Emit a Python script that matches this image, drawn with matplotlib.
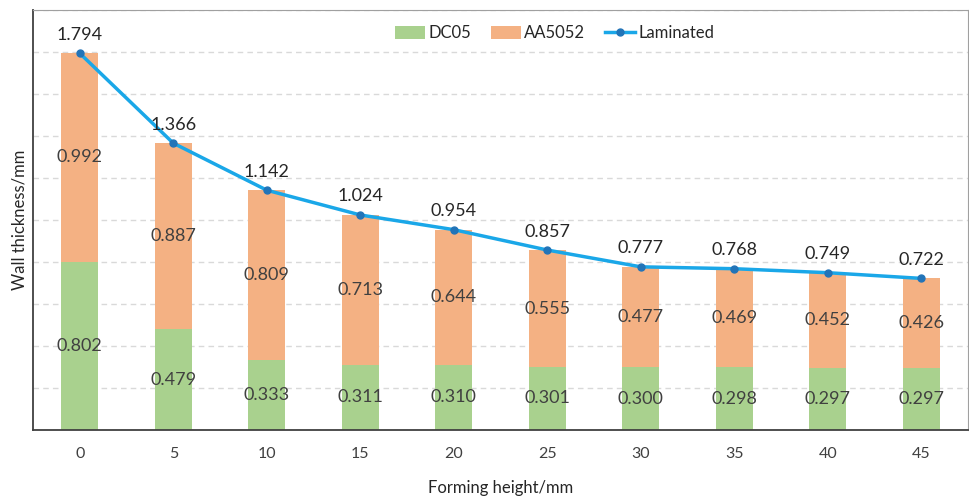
import numpy as np
import matplotlib.pyplot as plt

plt.rcParams['font.family'] = ['Lato', 'DejaVu Sans']

heights = ['0', '5', '10', '15', '20', '25', '30', '35', '40', '45']
dc05 = [0.802, 0.479, 0.333, 0.311, 0.310, 0.301, 0.300, 0.298, 0.297, 0.297]
aa5052 = [0.992, 0.887, 0.809, 0.713, 0.644, 0.555, 0.477, 0.469, 0.452, 0.426]
laminated = [1.794, 1.366, 1.142, 1.024, 0.954, 0.857, 0.777, 0.768, 0.749, 0.722]

x = np.arange(len(heights))
dc05 = np.array(dc05)
aa5052 = np.array(aa5052)

fig = plt.figure(figsize=(9.7, 4.96), dpi=100)
ax = fig.add_axes([33/970, 66/496, 935/970, 420/496])

b1 = ax.bar(x, dc05, width=0.4, color='#A9D18E', label='DC05', zorder=2)
b2 = ax.bar(x, aa5052, width=0.4, bottom=dc05, color='#F4B183', label='AA5052', zorder=2)
l1, = ax.plot(x, laminated, color='#1AA7E8', lw=2.5, marker='o', ms=5,
              mfc='#2274B8', mec='#2274B8', label='Laminated', zorder=3)

txt = '#404040'
for i in range(len(x)):
    ax.text(x[i], dc05[i] / 2, f'{dc05[i]:.3f}', ha='center', va='center',
            fontsize=13, color=txt, zorder=4)
    ax.text(x[i], dc05[i] + aa5052[i] / 2, f'{aa5052[i]:.3f}', ha='center',
            va='center', fontsize=13, color=txt, zorder=4)
    ax.text(x[i], laminated[i] + 0.05, f'{laminated[i]:.3f}', ha='center',
            va='bottom', fontsize=13, color='#262626', zorder=4)

ax.set_xlim(-0.5, 9.5)
ax.set_ylim(0, 2.0)
ax.set_yticks(np.arange(0, 2.01, 0.2))
ax.set_yticklabels([])
ax.tick_params(axis='y', length=0, pad=0)
ax.tick_params(axis='x', length=0, pad=12, labelsize=11.5, labelcolor=txt)
ax.set_xticks(x)
ax.set_xticklabels(heights)
ax.grid(axis='y', color='#D9D9D9', ls=(0, (4, 3)), lw=1, zorder=0)

for s in ['top', 'right']:
    ax.spines[s].set_color('#A0A0A0')
for s in ['left', 'bottom']:
    ax.spines[s].set_color('#404040')
    ax.spines[s].set_linewidth(1.3)

ax.set_xlabel('Forming height/mm', fontsize=12, color='#262626', labelpad=14)
ax.set_ylabel('Wall thickness/mm', fontsize=12, color='#262626', labelpad=4)

ax.legend([b1, b2, l1], ['DC05', 'AA5052', 'Laminated'],
          loc='upper center', bbox_to_anchor=(0.558, 1.0), ncol=3, frameon=False,
          fontsize=12, handlelength=1.8, handleheight=0.8, columnspacing=1.2,
          handletextpad=0.2, labelcolor='#262626')

fig.savefig('out.png', dpi=100)
